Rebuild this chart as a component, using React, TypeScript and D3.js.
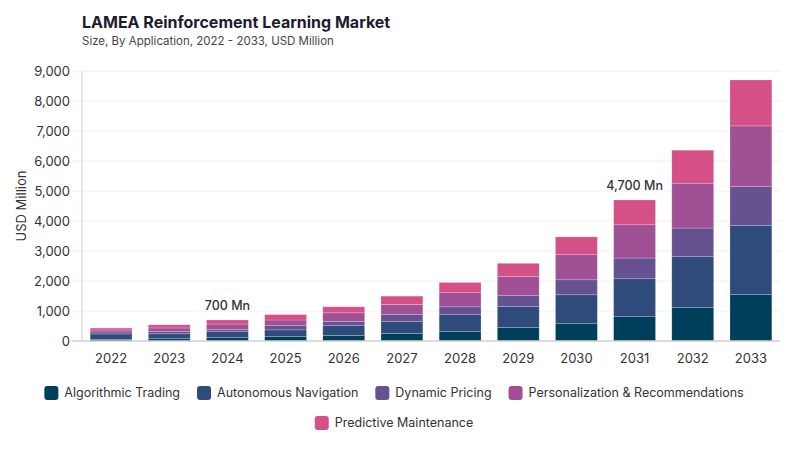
import React, { useRef, useEffect } from 'react';
import * as d3 from 'd3';

// years on the x axis
const years = ['2022', '2023', '2024', '2025', '2026', '2027', '2028', '2029', '2030', '2031', '2032', '2033'];

// series, bottom to top
const seriesNames = [
  'Algorithmic Trading',
  'Autonomous Navigation',
  'Dynamic Pricing',
  'Personalization & Recommendations',
  'Predictive Maintenance',
];
const algorithmicTrading = [55, 75, 110, 145, 190, 250, 310, 445, 575, 810, 1110, 1545];
const autonomousNavigation = [180, 165, 200, 225, 320, 395, 565, 700, 965, 1265, 1700, 2300];
const dynamicPricing = [65, 70, 65, 140, 145, 235, 265, 365, 500, 690, 955, 1300];
const personalization = [65, 125, 190, 190, 285, 340, 470, 635, 835, 1110, 1495, 2025];
const predictiveMaintenance = [65, 105, 135, 180, 200, 275, 340, 445, 595, 825, 1100, 1530];

const colors = ['#003f5c', '#2f4b7c', '#665191', '#a05195', '#d45087'];
const yTicks = [0, 1000, 2000, 3000, 4000, 5000, 6000, 7000, 8000, 9000];

// bar labels
const annotations = [
  { year: '2024', text: '700 Mn' },
  { year: '2031', text: '4,700 Mn' },
];

const FONT = 'Inter, "DejaVu Sans", sans-serif';

const App: React.FC = () => {
  const svgRef = useRef<SVGSVGElement>(null);

  const width = 800;
  const height = 450;
  const marginLeft = 82;
  const marginRight = 20;
  const marginTop = 71;
  const marginBottom = 109;

  useEffect(() => {
    if (!svgRef.current) return;
    const svg = d3.select(svgRef.current);
    svg.selectAll('*').remove();

    const allSeries = [algorithmicTrading, autonomousNavigation, dynamicPricing, personalization, predictiveMaintenance];
    const rows = years.map((yr, i) => {
      const r: any = { year: yr };
      seriesNames.forEach((s, k) => (r[s] = allSeries[k][i]));
      return r;
    });
    const stacked = d3.stack<any>().keys(seriesNames)(rows);

    const x = d3.scaleBand()
      .domain(years)
      .range([marginLeft, width - marginRight])
      .paddingInner(0.28)
      .paddingOuter(0.14);

    const y = d3.scaleLinear()
      .domain([0, 9000])
      .range([height - marginBottom, marginTop]);

    // title
    svg.append('text')
      .attr('x', marginLeft)
      .attr('y', 28)
      .attr('font-family', FONT)
      .attr('font-size', 16)
      .attr('font-weight', 700)
      .attr('fill', '#1c1c2e')
      .text('LAMEA Reinforcement Learning Market');
    svg.append('text')
      .attr('x', marginLeft)
      .attr('y', 45)
      .attr('font-family', FONT)
      .attr('font-size', 11.5)
      .attr('fill', '#444')
      .text('Size, By Application, 2022 - 2033, USD Million');

    // grid
    const grid = svg.append('g');
    grid.selectAll('line')
      .data(yTicks.filter((d) => d > 0))
      .join('line')
      .attr('x1', marginLeft - 10)
      .attr('x2', width - marginRight)
      .attr('y1', (d) => y(d))
      .attr('y2', (d) => y(d))
      .attr('stroke', '#f0f0f0')
      .attr('stroke-width', 1);

    // y tick labels
    svg.append('g')
      .selectAll('text')
      .data(yTicks)
      .join('text')
      .attr('x', marginLeft - 12)
      .attr('y', (d) => y(d))
      .attr('dy', '0.35em')
      .attr('text-anchor', 'end')
      .attr('font-family', FONT)
      .attr('font-size', 13)
      .attr('fill', '#333')
      .text((d) => d3.format(',')(d));

    svg.append('text')
      .attr('transform', `translate(26,${(marginTop + height - marginBottom) / 2}) rotate(-90)`)
      .attr('text-anchor', 'middle')
      .attr('font-family', FONT)
      .attr('font-size', 13)
      .attr('fill', '#333')
      .text('USD Million');

    // bars
    const groups = svg.append('g')
      .selectAll('g')
      .data(stacked)
      .join('g')
      .attr('fill', (_d, i) => colors[i]);
    groups.selectAll('rect')
      .data((d) => d)
      .join('rect')
      .attr('x', (d: any) => x(d.data.year)!)
      .attr('width', x.bandwidth())
      .attr('y', (d) => y(d[1]))
      .attr('height', (d) => y(d[0]) - y(d[1]))
      .attr('stroke', 'rgba(255,255,255,0.35)')
      .attr('stroke-width', 0.6);

    // axes lines
    svg.append('line')
      .attr('x1', marginLeft)
      .attr('x2', marginLeft)
      .attr('y1', marginTop)
      .attr('y2', y(0))
      .attr('stroke', '#dcdcdc')
      .attr('stroke-width', 1.5);
    svg.append('line')
      .attr('x1', marginLeft - 10)
      .attr('x2', width - marginRight)
      .attr('y1', y(0))
      .attr('y2', y(0))
      .attr('stroke', '#cfcfcf')
      .attr('stroke-width', 1.5);

    // x labels
    svg.append('g')
      .selectAll('text')
      .data(years)
      .join('text')
      .attr('x', (d) => x(d)! + x.bandwidth() / 2)
      .attr('y', y(0) + 22)
      .attr('text-anchor', 'middle')
      .attr('font-family', FONT)
      .attr('font-size', 13)
      .attr('fill', '#333')
      .text((d) => d);

    // annotations
    const totals = years.map((_yr, i) => d3.sum(allSeries, (s) => s[i]));
    svg.append('g')
      .selectAll('text')
      .data(annotations)
      .join('text')
      .attr('x', (d) => x(d.year)! + x.bandwidth() / 2)
      .attr('y', (d) => y(totals[years.indexOf(d.year)]) - 10)
      .attr('text-anchor', 'middle')
      .attr('font-family', FONT)
      .attr('font-size', 12.5)
      .attr('font-weight', 500)
      .attr('fill', '#333')
      .text((d) => d.text);

    // legend, wrapped and centred
    const legend = svg.append('g');
    const items = seriesNames.map((name, i) => {
      const g = legend.append('g');
      g.append('rect')
        .attr('width', 14)
        .attr('height', 14)
        .attr('rx', 3)
        .attr('y', -7)
        .attr('fill', colors[i]);
      const t = g.append('text')
        .attr('x', 20)
        .attr('dy', '0.35em')
        .attr('font-family', FONT)
        .attr('font-size', 12.5)
        .attr('fill', '#333')
        .text(name);
      const w = 20 + (t.node() as SVGTextElement).getComputedTextLength();
      return { g, w };
    });
    const gap = 17;
    const maxRow = 710;
    const lines: { g: any; w: number }[][] = [[]];
    let rowW = 0;
    items.forEach((it) => {
      const add = (lines[lines.length - 1].length ? gap : 0) + it.w;
      if (rowW + add > maxRow && lines[lines.length - 1].length) {
        lines.push([it]);
        rowW = it.w;
      } else {
        lines[lines.length - 1].push(it);
        rowW += add;
      }
    });
    const cx = 394;
    lines.forEach((line, li) => {
      const total = d3.sum(line, (d) => d.w) + gap * (line.length - 1);
      let px = cx - total / 2;
      line.forEach((it) => {
        it.g.attr('transform', `translate(${px},${393 + li * 30})`);
        px += it.w + gap;
      });
    });
  }, []);

  return <svg ref={svgRef} width={width} height={height} style={{ display: 'block', margin: '-8px' }} />;
};

export default App;
